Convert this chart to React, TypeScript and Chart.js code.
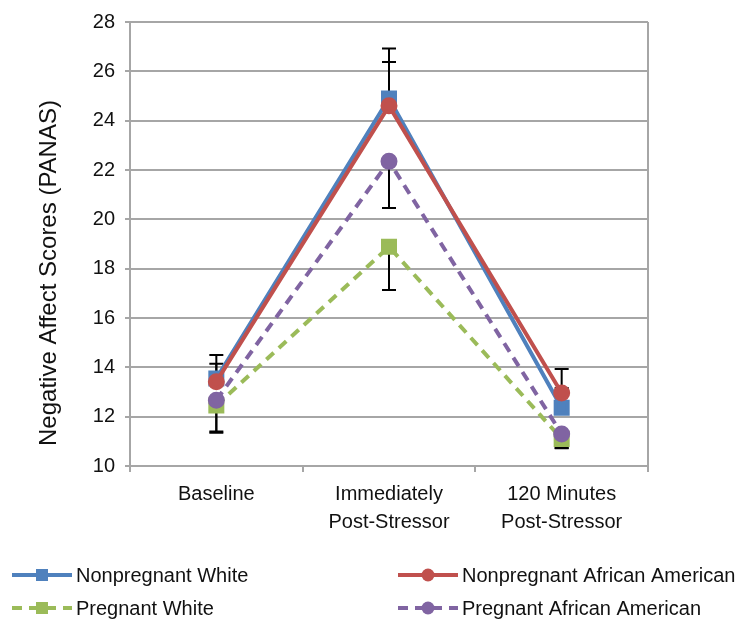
import { useEffect, useRef } from "react";
import { Chart, registerables } from "chart.js";
Chart.register(...registerables);

const categories = [["Baseline"], ["Immediately", "Post-Stressor"], ["120 Minutes", "Post-Stressor"]];
const seriesNames = ["Nonpregnant White", "Nonpregnant African American", "Pregnant White", "Pregnant African American"];
const yAxisTitle = "Negative Affect Scores (PANAS)";
const nonpregnantWhite = [13.55, 24.9, 12.36];
const nonpregnantAA = [13.42, 24.6, 12.96];
const pregnantWhite = [12.45, 18.89, 11.1];
const pregnantAA = [12.67, 22.35, 11.3];
const nonpregnantWhiteErrUp = [0.95, 2.03, 0.8];
const nonpregnantAAErrUp = [0.73, 1.78, 0.97];
const pregnantWhiteErrDown = [1.1, 1.75, 0.38];
const pregnantAAErrDown = [1.27, 1.89, 0.57];
const yMin = 10;
const yMax = 28;
const yStep = 2;

const FONT = "'Liberation Sans', Arial, Helvetica, sans-serif";
const GRID = "#a6a6a6";

const errorBarPlugin = {
  id: "errorBars",
  beforeDatasetsDraw(chart: any) {
    const { ctx, chartArea, scales } = chart;
    ctx.save();
    ctx.strokeStyle = GRID;
    ctx.lineWidth = 2;
    ctx.beginPath();
    ctx.moveTo(chartArea.right, chartArea.top);
    ctx.lineTo(chartArea.right, chartArea.bottom);
    ctx.stroke();
    ctx.restore();

    ctx.save();
    ctx.strokeStyle = "#000";
    ctx.lineWidth = 2;
    chart.data.datasets.forEach((ds: any, di: number) => {
      const meta = chart.getDatasetMeta(di);
      ds.data.forEach((v: number, i: number) => {
        const x = meta.data[i].x;
        const y0 = scales.y.getPixelForValue(v);
        const draw = (val: number) => {
          const y1 = scales.y.getPixelForValue(val);
          ctx.beginPath();
          ctx.moveTo(x, y0);
          ctx.lineTo(x, y1);
          ctx.moveTo(x - 7, y1);
          ctx.lineTo(x + 7, y1);
          ctx.stroke();
        };
        if (ds.errUp) draw(v + ds.errUp[i]);
        if (ds.errDown) draw(v - ds.errDown[i]);
      });
    });
    ctx.restore();
  },
  afterDraw(chart: any) {
    const { ctx, chartArea } = chart;
    // y-axis title
    ctx.save();
    ctx.translate(56, (chartArea.top + chartArea.bottom) / 2 + 29);
    ctx.rotate(-Math.PI / 2);
    ctx.fillStyle = "#111";
    ctx.font = `24px ${FONT}`;
    ctx.textAlign = "center";
    ctx.textBaseline = "alphabetic";
    ctx.fillText(yAxisTitle, 0, 0);
    ctx.restore();

    // legend
    const rows = [chart.height - 48, chart.height - 15];
    const cols = [12, 398];
    ctx.save();
    chart.data.datasets.forEach((ds: any, di: number) => {
      const col = cols[di % 2];
      const y = rows[Math.floor(di / 2)];
      ctx.strokeStyle = ds.borderColor;
      ctx.lineWidth = 4;
      ctx.setLineDash(ds.borderDash || []);
      ctx.beginPath();
      ctx.moveTo(col, y);
      ctx.lineTo(col + 60, y);
      ctx.stroke();
      ctx.setLineDash([]);
      ctx.fillStyle = ds.backgroundColor;
      ctx.beginPath();
      if (ds.pointStyle === "rect") {
        ctx.rect(col + 30 - 6, y - 6, 12, 12);
      } else {
        ctx.arc(col + 30, y, 6.5, 0, Math.PI * 2);
      }
      ctx.fill();
      ctx.fillStyle = "#111";
      ctx.font = `20px ${FONT}`;
      ctx.textBaseline = "middle";
      ctx.textAlign = "left";
      ctx.fillText(ds.label, col + 64, y + 1);
    });
    ctx.restore();
  },
};

export default function App() {
  const ref = useRef<HTMLCanvasElement>(null);
  useEffect(() => {
    if (!ref.current) return;
    const chart = new Chart(ref.current, {
      type: "line",
      data: {
        labels: categories as any,
        datasets: [
          {
            label: seriesNames[0],
            data: nonpregnantWhite,
            borderColor: "#4F81BD",
            backgroundColor: "#4F81BD",
            pointStyle: "rect",
            pointRadius: 8.5,
            borderWidth: 4,
            order: 4,
            errUp: nonpregnantWhiteErrUp,
          } as any,
          {
            label: seriesNames[1],
            data: nonpregnantAA,
            borderColor: "#C0504D",
            backgroundColor: "#C0504D",
            pointStyle: "circle",
            pointRadius: 6.5,
            borderWidth: 4,
            order: 3,
            errUp: nonpregnantAAErrUp,
          } as any,
          {
            label: seriesNames[2],
            data: pregnantWhite,
            borderColor: "#9BBB59",
            backgroundColor: "#9BBB59",
            pointStyle: "rect",
            pointRadius: 8.5,
            borderWidth: 4,
            borderDash: [10, 7],
            order: 2,
            errDown: pregnantWhiteErrDown,
          } as any,
          {
            label: seriesNames[3],
            data: pregnantAA,
            borderColor: "#8064A2",
            backgroundColor: "#8064A2",
            pointStyle: "circle",
            pointRadius: 6.5,
            borderWidth: 4,
            borderDash: [10, 7],
            order: 1,
            errDown: pregnantAAErrDown,
          } as any,
        ],
      },
      options: {
        animation: false,
        responsive: false,
        devicePixelRatio: 1,
        layout: { padding: { left: 0, right: 96, top: 14, bottom: 0 } },
        elements: { point: { borderWidth: 0, hoverRadius: 8 }, line: { tension: 0 } },
        plugins: { legend: { display: false }, tooltip: { enabled: false } },
        scales: {
          x: {
            offset: true,
            grid: { offset: true, drawOnChartArea: false, drawTicks: true, tickLength: 6, color: GRID, lineWidth: 2 },
            border: { color: GRID, width: 2 },
            ticks: { color: "#111", font: { family: FONT, size: 20, lineHeight: 1.4 }, padding: 8, maxRotation: 0, autoSkip: false },
            afterFit: (s: any) => { s.height = 157; },
          },
          y: {
            min: yMin,
            max: yMax,
            ticks: { stepSize: yStep, color: "#111", font: { family: FONT, size: 20 }, padding: 10 },
            grid: { color: GRID, lineWidth: 2, tickLength: 5 },
            border: { color: GRID, width: 2 },
            afterFit: (s: any) => { s.width = 130; },
          },
        },
      },
      plugins: [errorBarPlugin],
    });
    return () => chart.destroy();
  }, []);
  return (
    <div style={{ position: "fixed", left: 0, top: 0, width: 744, height: 623, background: "#fff" }}>
      <canvas ref={ref} width={744} height={623} />
    </div>
  );
}
